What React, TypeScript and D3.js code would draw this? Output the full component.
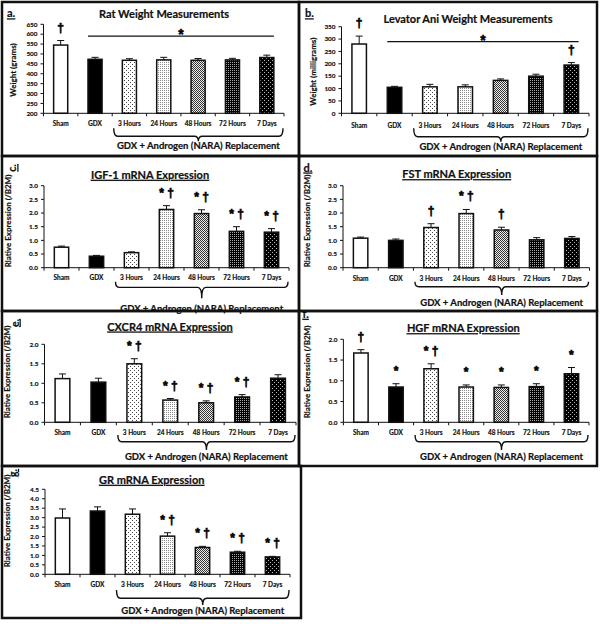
import React from "react";
import * as d3 from "d3";

const categories = ["Sham", "GDX", "3 Hours", "24 Hours", "48 Hours", "72 Hours", "7 Days"];
const bracketText = "GDX + Androgen (NARA) Replacement";

const ratWeight = [545, 473, 468, 470, 468, 470, 482];
const ratWeightErr = [23, 10, 8, 13, 9, 8, 12];
const ratMarks = ["†", "", "", "", "", "", ""];
const ratSigLevel = 590;

const levatorWeight = [280, 105, 107, 107, 133, 150, 195];
const levatorErr = [32, 4, 10, 8, 6, 8, 10];
const levatorMarks = ["†", "", "", "", "", "", "†"];
const levatorSigLevel = 290;

const igf1 = [0.75, 0.42, 0.55, 2.13, 1.98, 1.33, 1.3];
const igf1Err = [0.04, 0.03, 0.03, 0.14, 0.14, 0.17, 0.13];
const igf1Marks = ["", "", "", "* †", "* †", "* †", "* †"];

const fst = [1.08, 1.0, 1.47, 1.98, 1.38, 1.02, 1.07];
const fstErr = [0.04, 0.05, 0.14, 0.15, 0.1, 0.08, 0.07];
const fstMarks = ["", "", "†", "* †", "†", "", ""];

const cxcr4 = [1.12, 1.03, 1.5, 0.57, 0.5, 0.65, 1.13];
const cxcr4Err = [0.12, 0.1, 0.13, 0.04, 0.05, 0.06, 0.09];
const cxcr4Marks = ["", "", "* †", "* †", "* †", "* †", ""];

const hgf = [1.67, 0.85, 1.29, 0.85, 0.84, 0.86, 1.17];
const hgfErr = [0.08, 0.08, 0.12, 0.05, 0.06, 0.07, 0.15];
const hgfMarks = ["†", "*", "* †", "*", "*", "*", "*"];

const gr = [2.98, 3.35, 3.18, 2.02, 1.42, 1.17, 0.92];
const grErr = [0.48, 0.22, 0.28, 0.18, 0.06, 0.05, 0.03];
const grMarks = ["", "", "", "* †", "* †", "* †", "* †"];

const fills = ["#ffffff", "#000000", "url(#p3h)", "url(#p24h)", "url(#p48h)", "url(#p72h)", "url(#p7d)"];

const FONT = "Lato, 'Open Sans', sans-serif";
const MARK_FONT = "'Liberation Sans', 'DejaVu Sans', sans-serif";

type Cfg = {
  box: [number, number, number, number];
  x0: number; x1: number; yTop: number; yBot: number;
  domain: [number, number]; step: number; fmt: string;
  title: string; tx: number; ty: number; tUnder: boolean;
  letter: string; lx: number; ly: number; lRot: boolean;
  ylabel: string; ylx: number; yly: number;
  labDy: number; bTop: number; bLine: number; bTip: number; textDy: number;
};

function bracePath(xs: number, xe: number, yt: number, yl: number, ytip: number) {
  const xc = (xs + xe) / 2;
  const r = 4;
  return `M${xs},${yt} Q${xs},${yl} ${xs + r},${yl} L${xc - r},${yl} Q${xc},${yl} ${xc},${ytip} Q${xc},${yl} ${xc + r},${yl} L${xe - r},${yl} Q${xe},${yl} ${xe},${yt}`;
}

function Panel({ cfg, values, errs, marks, sigLevel }: { cfg: Cfg; values: number[]; errs: number[]; marks: string[]; sigLevel?: number }) {
  const x = d3.scaleBand<string>().domain(categories).range([cfg.x0, cfg.x1]).paddingInner(0.59).paddingOuter(0.295);
  const y = d3.scaleLinear().domain(cfg.domain).range([cfg.yBot, cfg.yTop]);
  const ticks = d3.range(cfg.domain[0], cfg.domain[1] + cfg.step / 2, cfg.step);
  const fmt = d3.format(cfg.fmt);
  const step = x.step();
  const bw = x.bandwidth();
  const boundaries = d3.range(0, categories.length + 1).map((i) => cfg.x0 + i * step);
  const xs = cfg.x0 + 2 * step + 1.5;
  const xe = cfg.x1 - 1;
  const xc = (xs + xe) / 2;
  const [bx, by, bw2, bh] = cfg.box;
  return (
    <g fontFamily={FONT} fontWeight="bold" fill="#111" stroke="none">
      <rect x={bx} y={by} width={bw2} height={bh} fill="none" stroke="#111" strokeWidth={2.5} />
      <text x={cfg.tx} y={cfg.ty} dy="0.35em" textAnchor="middle" fontSize={11} stroke="#111" strokeWidth={0.2} textDecoration={cfg.tUnder ? "underline" : undefined}>{cfg.title}</text>
      {cfg.lRot ? (
        <text transform={`translate(${cfg.lx},${cfg.ly}) rotate(-90)`} textAnchor="middle" dy="0.35em" fontSize={10.5} stroke="#111" strokeWidth={0.2} textDecoration="underline">{cfg.letter}</text>
      ) : (
        <text x={cfg.lx} y={cfg.ly} dy="0.35em" fontSize={11} stroke="#111" strokeWidth={0.2} textDecoration="underline">{cfg.letter}</text>
      )}
      <text transform={`translate(${cfg.ylx},${cfg.yly}) rotate(-90)`} textAnchor="middle" dy="0.35em" fontSize={8} stroke="#111" strokeWidth={0.2}>{cfg.ylabel}</text>
      {ticks.map((t) => (
        <g key={t}>
          <line x1={cfg.x0 - 3} x2={cfg.x0} y1={y(t)} y2={y(t)} stroke="#111" strokeWidth={1} />
          <text x={cfg.x0 - 6} y={y(t)} dy="0.35em" textAnchor="end" fontSize={6.4} stroke="#111" strokeWidth={0.15}>{fmt(t)}</text>
        </g>
      ))}
      {categories.map((c, i) => {
        const v = values[i];
        const e = errs[i];
        const cx = (x(c) as number) + bw / 2;
        const top = y(e + v);
        return (
          <g key={c}>
            <line x1={cx} x2={cx} y1={y(v)} y2={top} stroke="#111" strokeWidth={1} />
            <line x1={cx - 3.5} x2={cx + 3.5} y1={top} y2={top} stroke="#111" strokeWidth={1} />
            <rect x={x(c)} y={y(v)} width={bw} height={y(cfg.domain[0]) - y(v)} fill={fills[i]} stroke="#111" strokeWidth={1.5} />
            {marks[i] ? (
              <text x={cx} y={top - 9} textAnchor="middle" fontSize={12} fontFamily={MARK_FONT} fill="#000" stroke="#000" strokeWidth={0.6}>{marks[i]}</text>
            ) : null}
            <text x={cx} y={cfg.yBot + cfg.labDy} dy="0.35em" textAnchor="middle" fontSize={6.5} stroke="#111" strokeWidth={0.15}>{c}</text>
          </g>
        );
      })}
      <line x1={cfg.x0} x2={cfg.x0} y1={cfg.yTop} y2={cfg.yBot} stroke="#111" strokeWidth={1} />
      <line x1={cfg.x0} x2={cfg.x1} y1={cfg.yBot} y2={cfg.yBot} stroke="#111" strokeWidth={1} />
      {boundaries.map((b, i) => (
        <line key={i} x1={b} x2={b} y1={cfg.yBot} y2={cfg.yBot + 3} stroke="#111" strokeWidth={1} />
      ))}
      {sigLevel !== undefined ? (
        <g>
          <line x1={(x("GDX") as number)} x2={(x("7 Days") as number) + bw} y1={y(sigLevel)} y2={y(sigLevel)} stroke="#111" strokeWidth={1.2} />
          <text x={((x("GDX") as number) + (x("7 Days") as number) + bw) / 2} y={y(sigLevel) + 3} textAnchor="middle" fontSize={14} fontFamily={MARK_FONT} fill="#000" stroke="#000" strokeWidth={0.5}>*</text>
        </g>
      ) : null}
      <path d={bracePath(xs, xe, cfg.yBot + cfg.bTop, cfg.yBot + cfg.bLine, cfg.yBot + cfg.bTip)} fill="none" stroke="#111" strokeWidth={1.4} />
      <text x={xc} y={cfg.yBot + cfg.textDy} dy="0.35em" textAnchor="middle" fontSize={9.5} stroke="#111" strokeWidth={0.2}>{bracketText}</text>
    </g>
  );
}

const cfgA: Cfg = { box: [2, 2, 297, 154], x0: 43.5, x1: 284, yTop: 24.3, yBot: 113.3, domain: [200, 650], step: 50, fmt: "d", title: "Rat Weight Measurements", tx: 164, ty: 14, tUnder: false, letter: "a.", lx: 7, ly: 13.5, lRot: false, ylabel: "Weight (grams)", ylx: 13, yly: 70, labDy: 10, bTop: 15, bLine: 23, bTip: 28, textDy: 32.5 };
const cfgB: Cfg = { box: [299, 2, 298, 154], x0: 341.5, x1: 589, yTop: 26.7, yBot: 113.3, domain: [0, 350], step: 50, fmt: "d", title: "Levator Ani Weight Measurements", tx: 468, ty: 19.3, tUnder: false, letter: "b.", lx: 305, ly: 13.5, lRot: false, ylabel: "Weight (milligrams)", ylx: 313, yly: 71.7, labDy: 12.7, bTop: 15, bLine: 23.4, bTip: 28.4, textDy: 33.4 };
const cfgC: Cfg = { box: [2, 156, 297, 155], x0: 44, x1: 289, yTop: 185.7, yBot: 267.7, domain: [0, 3], step: 0.5, fmt: ".1f", title: "IGF-1 mRNA Expression", tx: 150, ty: 175, tUnder: true, letter: "c.", lx: 12.7, ly: 168, lRot: true, ylabel: "Rlative Expression (/B2M)", ylx: 8.5, yly: 221, labDy: 10, bTop: 14, bLine: 19.7, bTip: 30.6, textDy: 41.3 };
const cfgD: Cfg = { box: [299, 156, 298, 155], x0: 343, x1: 589.5, yTop: 185.7, yBot: 267.7, domain: [0, 3], step: 0.5, fmt: ".1f", title: "FST mRNA Expression", tx: 456.7, ty: 174.3, tUnder: true, letter: "d.", lx: 303.5, ly: 167.7, lRot: false, ylabel: "Rlative Expression (/B2M)", ylx: 307.3, yly: 221, labDy: 10.6, bTop: 14, bLine: 19, bTip: 27.3, textDy: 34.6 };
const cfgE: Cfg = { box: [2, 311, 297, 155], x0: 44.5, x1: 296, yTop: 344.3, yBot: 422.3, domain: [0, 2], step: 0.5, fmt: ".1f", title: "CXCR4 mRNA Expression", tx: 170, ty: 326.7, tUnder: true, letter: "e.", lx: 15, ly: 323, lRot: true, ylabel: "Rlative Expression (/B2M)", ylx: 7.3, yly: 372, labDy: 10, bTop: 12.7, bLine: 19.4, bTip: 27.7, textDy: 34.4 };
const cfgF: Cfg = { box: [299, 311, 298, 155], x0: 343.4, x1: 589, yTop: 339.3, yBot: 422.3, domain: [0, 2], step: 0.5, fmt: ".1f", title: "HGF mRNA Expression", tx: 463.3, ty: 328.3, tUnder: true, letter: "f.", lx: 302.5, ly: 314, lRot: false, ylabel: "Rlative Expression (/B2M)", ylx: 307, yly: 372, labDy: 10.4, bTop: 12.7, bLine: 19.4, bTip: 27.7, textDy: 34.4 };
const cfgG: Cfg = { box: [2, 466, 299, 152], x0: 45, x1: 290, yTop: 489.3, yBot: 574.3, domain: [0, 4.5], step: 0.5, fmt: ".1f", title: "GR mRNA Expression", tx: 151.7, ty: 480, tUnder: true, letter: "g.", lx: 13.3, ly: 473, lRot: true, ylabel: "Rlative Expression (/B2M)", ylx: 6.7, yly: 521, labDy: 10, bTop: 15.7, bLine: 24, bTip: 30.7, textDy: 36.4 };

export default function App() {
  return (
    <div style={{ position: "fixed", left: 0, top: 0 }}>
      <svg width={602} height={624} viewBox="0 0 602 624">
        <defs>
          <pattern id="p3h" width={4} height={4} patternUnits="userSpaceOnUse">
            <rect width={4} height={4} fill="#fff" />
            <rect x={0} y={0} width={1} height={1} fill="#444" />
            <rect x={2} y={2} width={1} height={1} fill="#444" />
          </pattern>
          <pattern id="p24h" width={2} height={2} patternUnits="userSpaceOnUse">
            <rect width={2} height={2} fill="#fff" />
            <rect x={0} y={0} width={1} height={1} fill="#888" />
          </pattern>
          <pattern id="p48h" width={2} height={2} patternUnits="userSpaceOnUse">
            <rect width={2} height={2} fill="#eee" />
            <rect x={0} y={0} width={1} height={1} fill="#333" />
            <rect x={1} y={1} width={1} height={1} fill="#333" />
          </pattern>
          <pattern id="p72h" width={2} height={2} patternUnits="userSpaceOnUse">
            <rect width={2} height={2} fill="#000" />
            <rect x={0} y={0} width={1} height={1} fill="#aaa" />
          </pattern>
          <pattern id="p7d" width={4} height={4} patternUnits="userSpaceOnUse">
            <rect width={4} height={4} fill="#000" />
            <rect x={0} y={0} width={1} height={1} fill="#bbb" />
            <rect x={2} y={2} width={1} height={1} fill="#bbb" />
          </pattern>
        </defs>
        <rect width={602} height={624} fill="#fff" />
        <Panel cfg={cfgA} values={ratWeight} errs={ratWeightErr} marks={ratMarks} sigLevel={ratSigLevel} />
        <Panel cfg={cfgB} values={levatorWeight} errs={levatorErr} marks={levatorMarks} sigLevel={levatorSigLevel} />
        <Panel cfg={cfgC} values={igf1} errs={igf1Err} marks={igf1Marks} />
        <Panel cfg={cfgD} values={fst} errs={fstErr} marks={fstMarks} />
        <Panel cfg={cfgE} values={cxcr4} errs={cxcr4Err} marks={cxcr4Marks} />
        <Panel cfg={cfgF} values={hgf} errs={hgfErr} marks={hgfMarks} />
        <Panel cfg={cfgG} values={gr} errs={grErr} marks={grMarks} />
      </svg>
    </div>
  );
}
